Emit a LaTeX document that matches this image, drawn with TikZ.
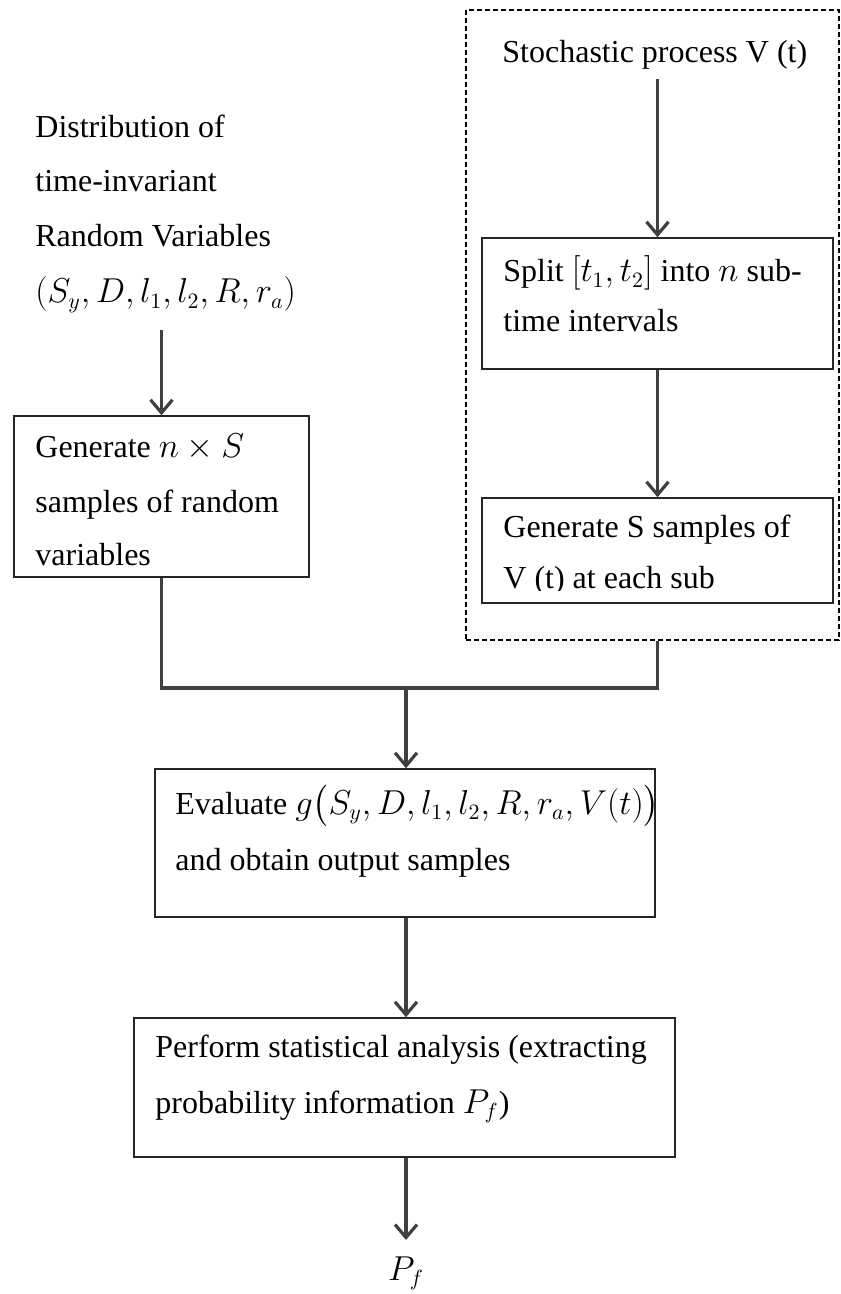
\documentclass[tikz,border=0pt]{standalone}
\usepackage{amsmath}
\usepackage{fontspec}
\setmainfont{Liberation Serif}
\usetikzlibrary{arrows.meta,fit}

\definecolor{flowgray}{HTML}{404040}

\tikzset{
  stepbox/.style={draw=black!85, line width=0.75pt, inner sep=0pt},
  groupbox/.style={draw=black, line width=0.6pt, dash pattern=on 2.5pt off 1.5pt, inner sep=0pt},
  txt/.style={anchor=base west, inner sep=0pt, font=\fontsize{16pt}{27.5pt}\selectfont},
  flow/.style={draw=flowgray, line width=1.6pt},
  arr/.style={flow, -{Straight Barb[length=6.5pt,width=11pt,line width=1.6pt]}}
}

\begin{document}
\begin{tikzpicture}[x=0.5pt,y=-0.5pt]
\useasboundingbox (0,0) rectangle (840,1294);

% time-dependent branch (dashed group)
\node[groupbox, fit={(466,10) (839,640)}] (vbox) {};
\node[txt] (stoch) at (502,63) {Stochastic process V (t)};
\node[stepbox, fit={(482,238) (833,369)}] (split) {};
\node[txt] (split1) at (503,282) {Split $[t_1, t_2]$ into $n$ sub-};
\node[txt] (split2) at (503,332) {time intervals};
\node[stepbox, fit={(482,498) (833,603)}] (genS) {};
\begin{scope}
  \clip (482,498) rectangle (833,590);
  \node[txt] (genS1) at (503,537) {Generate S samples of};
  \node[txt] (genS2) at (503,588) {V (t) at each sub};
\end{scope}

% time-invariant branch
\node[txt] (dist1) at (35,138) {Distribution of};
\node[txt] (dist2) at (35,192) {time-invariant};
\node[txt] (dist3) at (35,247) {Random Variables};
\node[txt] (dist4) at (35,303) {$(S_y, D, l_1, l_2, R, r_a)$};
\node[stepbox, fit={(14,416) (309,577)}] (genN) {};
\node[txt] (genN1) at (35,457) {Generate $n \times S$};
\node[txt] (genN2) at (35,512) {samples of random};
\node[txt] (genN3) at (35,565) {variables};

% evaluation and post-processing
\node[stepbox, fit={(155,769) (655,917)}] (eval) {};
\node[txt] (eval1) at (175,814) {Evaluate $g\bigl(S_y, D, l_1, l_2, R, r_a, V(t)\bigr)$};
\node[txt] (eval2) at (175,870) {and obtain output samples};
\node[stepbox, fit={(134,1018) (675,1157)}] (perf) {};
\node[txt] (perf1) at (155,1057) {Perform statistical analysis (extracting};
\node[txt] (perf2) at (155,1113) {probability information $P_f$)};
\node[anchor=base, inner sep=0pt, font=\fontsize{16pt}{27.5pt}\selectfont] (pf) at (406,1280) {$P_f$};

\coordinate (j) at (406,688);

% connectors
\draw[arr] (split.north |- 0,79) -- (split.north);
\draw[arr] (split.south) -- (genS.north);
\draw[arr] (genN.north |- 0,330) -- (genN.north);
\draw[flow] (genN.south) |- (j) -| (vbox.south -| split.south);
\draw[arr] (j) -- (j |- eval.north);
\draw[arr] (eval.south -| j) -- (j |- perf.north);
\draw[arr] (perf.south -| j) -- (j |- 0,1240);
\end{tikzpicture}
\end{document}
